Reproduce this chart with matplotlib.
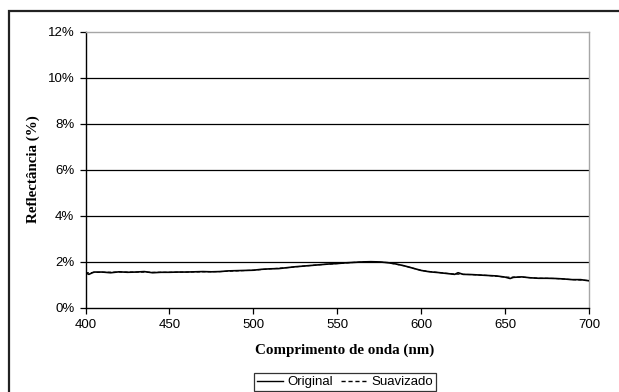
import matplotlib
matplotlib.use("Agg")
import matplotlib.pyplot as plt
from matplotlib.patches import Rectangle
from matplotlib.lines import Line2D

# Reflectance spectrum (%), measured and smoothed
wavelength = [400, 402, 405, 410, 415, 420, 425, 430, 435, 440, 445, 450, 455, 460,
              465, 470, 475, 480, 485, 490, 495, 500, 505, 510, 515, 520, 525, 530,
              535, 540, 545, 550, 555, 560, 565, 570, 575, 580, 585, 590, 595, 600,
              605, 610, 615, 620, 622, 625, 630, 635, 640, 645, 650, 653, 655, 660,
              665, 670, 675, 680, 685, 690, 695, 700]
original = [1.52, 1.45, 1.55, 1.55, 1.52, 1.56, 1.54, 1.55, 1.57, 1.52, 1.54, 1.54,
            1.55, 1.55, 1.56, 1.57, 1.56, 1.57, 1.60, 1.61, 1.62, 1.63, 1.67, 1.69,
            1.70, 1.74, 1.78, 1.81, 1.84, 1.87, 1.90, 1.92, 1.95, 1.97, 1.99, 2.00,
            1.99, 1.96, 1.90, 1.82, 1.72, 1.62, 1.56, 1.53, 1.49, 1.45, 1.52, 1.45,
            1.44, 1.42, 1.40, 1.38, 1.33, 1.27, 1.32, 1.34, 1.30, 1.28, 1.28, 1.27,
            1.25, 1.22, 1.22, 1.17]

wavelength_smooth = [400, 410, 420, 430, 440, 450, 460, 470, 480, 490, 500, 510, 520,
                     530, 540, 550, 560, 570, 580, 590, 600, 610, 620, 630, 640, 650,
                     660, 670, 680, 690, 700]
smoothed = [1.52, 1.54, 1.55, 1.55, 1.54, 1.54, 1.55, 1.56, 1.57, 1.60, 1.63, 1.69,
            1.74, 1.81, 1.87, 1.92, 1.97, 2.00, 1.96, 1.82, 1.62, 1.53, 1.46, 1.44,
            1.40, 1.33, 1.33, 1.28, 1.27, 1.22, 1.18]

x_ticks = [400, 450, 500, 550, 600, 650, 700]
y_ticks = [0, 2, 4, 6, 8, 10, 12]
y_tick_labels = ["0%", "2%", "4%", "6%", "8%", "10%", "12%"]

W, H = 619, 392
fig = plt.figure(figsize=(W / 100, H / 100), dpi=100)
fig.patch.set_facecolor("white")

# Outer chart frame (runs past the right and bottom edges)
fig.patches.append(Rectangle((9 / W, -0.05), 1.2, 1 - 11 / H + 0.05,
                             transform=fig.transFigure, fill=False,
                             edgecolor="#222222", linewidth=1.6, zorder=0))

ax = fig.add_axes([85.5 / W, 1 - 307.7 / H, (589 - 85.5) / W, (307.7 - 31.7) / H])
ax.set_xlim(400, 700)
ax.set_ylim(0, 12)

for y in y_ticks[1:-1]:
    ax.axhline(y, color="black", linewidth=0.9, zorder=1)

ax.plot(wavelength, original, color="black", linewidth=1.2, zorder=3)
ax.plot(wavelength_smooth, smoothed, color="black", linewidth=0.8,
        linestyle=(0, (3, 2)), zorder=2)

ax.set_xticks(x_ticks)
ax.set_yticks(y_ticks)
ax.set_yticklabels(y_tick_labels)
ax.tick_params(axis="both", direction="out", length=4, width=0.9, colors="black",
               labelsize=9.5, pad=4)
for lab in ax.get_xticklabels() + ax.get_yticklabels():
    lab.set_fontfamily("Liberation Sans")

ax.spines["left"].set_color("black")
ax.spines["bottom"].set_color("black")
ax.spines["right"].set_color("#a6a6a6")
ax.spines["top"].set_color("#a6a6a6")
for s in ax.spines.values():
    s.set_linewidth(1.0)

fig.text(345 / W, 1 - 350 / H, "Comprimento de onda (nm)", ha="center", va="center",
         fontfamily="Liberation Serif", fontweight="bold", fontsize=10.8)
fig.text(33.5 / W, 1 - 169 / H, "Reflectância (%)", ha="center", va="center",
         rotation=90, fontfamily="Liberation Serif", fontweight="bold", fontsize=10.8)

handles = [Line2D([], [], color="black", linewidth=1.0),
           Line2D([], [], color="black", linewidth=1.0, linestyle=(0, (3, 2)))]
leg = fig.legend(handles, ["Original", "Suavizado"], loc="center",
                 bbox_to_anchor=(345 / W, 1 - 382 / H), ncol=2, frameon=True,
                 fancybox=False, edgecolor="black", handlelength=2.0,
                 handletextpad=0.3, columnspacing=0.6, borderpad=0.2,
                 borderaxespad=0.0, prop={"family": "Liberation Sans", "size": 9.5})
leg.get_frame().set_linewidth(0.9)

fig.savefig("out.png", dpi=100, facecolor="white")
